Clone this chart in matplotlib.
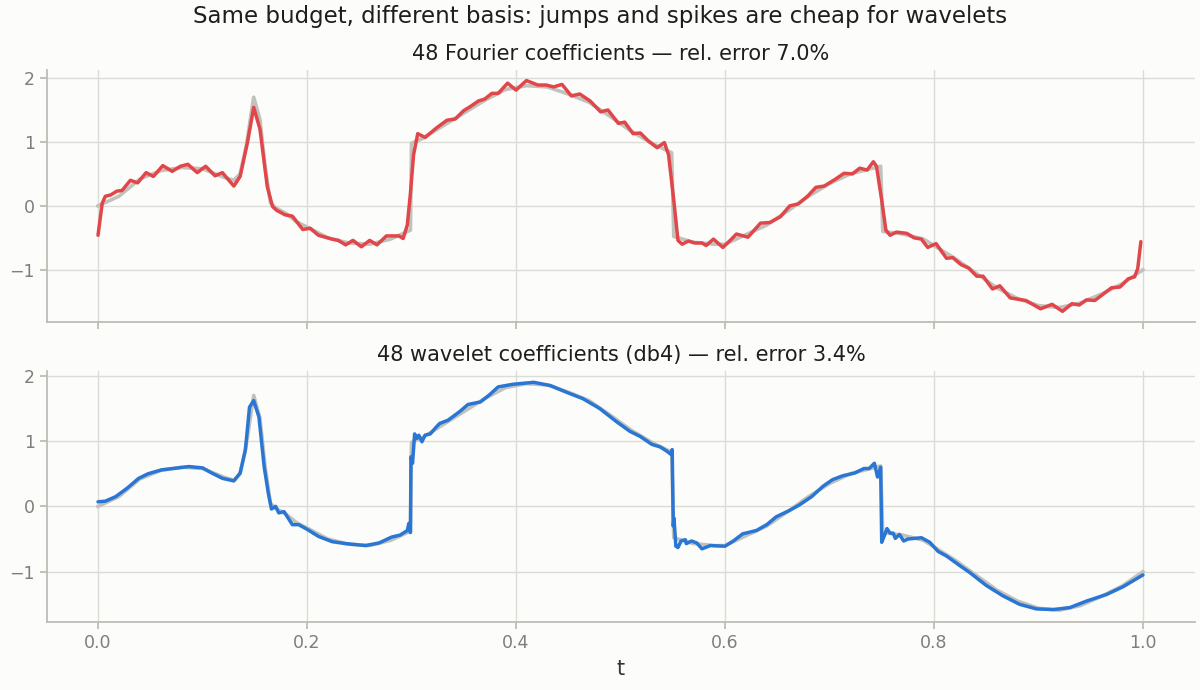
import matplotlib
matplotlib.use("Agg")
import matplotlib.pyplot as plt

# ---- data ----
orig_t = [0.0, 0.02, 0.04, 0.06, 0.08, 0.10, 0.12, 0.13, 0.136, 0.142, 0.149, 0.155, 0.16,
          0.165, 0.17, 0.18, 0.19, 0.20, 0.22, 0.24, 0.26, 0.28, 0.299, 0.300, 0.31, 0.33,
          0.35, 0.37, 0.39, 0.41, 0.43, 0.45, 0.47, 0.49, 0.51, 0.53, 0.549, 0.551, 0.57,
          0.59, 0.60, 0.62, 0.64, 0.66, 0.68, 0.70, 0.72, 0.749, 0.751, 0.77, 0.79, 0.80,
          0.82, 0.84, 0.86, 0.88, 0.90, 0.92, 0.94, 0.96, 0.98, 1.0]
orig_y = [0.0, 0.15, 0.42, 0.55, 0.60, 0.58, 0.45, 0.40, 0.50, 0.95, 1.70, 1.35, 0.60,
          0.05, -0.03, -0.12, -0.25, -0.33, -0.50, -0.58, -0.60, -0.52, -0.38, 0.98, 1.05, 1.25,
          1.45, 1.65, 1.82, 1.88, 1.86, 1.75, 1.62, 1.40, 1.17, 0.98, 0.83, -0.48, -0.57,
          -0.60, -0.60, -0.45, -0.30, -0.08, 0.15, 0.35, 0.50, 0.62, -0.40, -0.44, -0.52, -0.62,
          -0.82, -1.05, -1.28, -1.45, -1.56, -1.59, -1.52, -1.38, -1.22, -1.0]

fourier_t = [0.0, 0.004, 0.007, 0.012, 0.018, 0.023, 0.031, 0.038, 0.046, 0.053, 0.062, 0.071,
             0.079, 0.086, 0.095, 0.103, 0.112, 0.119, 0.130, 0.136, 0.143, 0.149, 0.155, 0.162,
             0.167, 0.171, 0.179, 0.186, 0.196, 0.203, 0.211, 0.224, 0.230, 0.237, 0.244, 0.252,
             0.260, 0.267, 0.276, 0.283, 0.288, 0.292, 0.296, 0.299, 0.302, 0.306, 0.313, 0.324,
             0.334, 0.342, 0.350, 0.356, 0.364, 0.370, 0.377, 0.383, 0.392, 0.400, 0.410, 0.421,
             0.429, 0.436, 0.444, 0.453, 0.461, 0.471, 0.481, 0.488, 0.498, 0.504, 0.512, 0.519,
             0.527, 0.535, 0.542, 0.546, 0.551, 0.555, 0.559, 0.565, 0.571, 0.578, 0.582, 0.589,
             0.598, 0.605, 0.611, 0.622, 0.634, 0.643, 0.653, 0.662, 0.670, 0.679, 0.687, 0.695,
             0.705, 0.714, 0.722, 0.729, 0.736, 0.742, 0.745, 0.750, 0.754, 0.758, 0.764, 0.774,
             0.781, 0.788, 0.794, 0.802, 0.812, 0.818, 0.826, 0.833, 0.841, 0.847, 0.856, 0.863,
             0.873, 0.888, 0.902, 0.913, 0.923, 0.932, 0.939, 0.946, 0.954, 0.962, 0.970, 0.978,
             0.986, 0.992, 0.995, 0.998]
fourier_y = [-0.46, 0.04, 0.15, 0.17, 0.23, 0.24, 0.40, 0.36, 0.52, 0.46, 0.63, 0.54,
             0.62, 0.65, 0.52, 0.62, 0.47, 0.52, 0.31, 0.46, 0.99, 1.54, 1.20, 0.30,
             -0.01, -0.07, -0.14, -0.16, -0.37, -0.35, -0.46, -0.52, -0.54, -0.61, -0.54, -0.64,
             -0.54, -0.61, -0.47, -0.47, -0.47, -0.51, -0.30, 0.20, 0.80, 1.13, 1.07, 1.22,
             1.34, 1.36, 1.49, 1.55, 1.64, 1.67, 1.76, 1.76, 1.92, 1.81, 1.96, 1.89,
             1.89, 1.86, 1.90, 1.72, 1.75, 1.64, 1.47, 1.50, 1.29, 1.31, 1.13, 1.14,
             1.01, 0.91, 0.99, 0.80, 0.09, -0.54, -0.60, -0.55, -0.58, -0.58, -0.62, -0.52,
             -0.65, -0.54, -0.44, -0.49, -0.27, -0.26, -0.17, 0.00, 0.03, 0.15, 0.29, 0.31,
             0.41, 0.51, 0.50, 0.59, 0.56, 0.69, 0.62, 0.09, -0.38, -0.46, -0.41, -0.43,
             -0.50, -0.52, -0.65, -0.59, -0.82, -0.81, -0.92, -0.97, -1.10, -1.10, -1.30, -1.25,
             -1.44, -1.48, -1.61, -1.54, -1.65, -1.53, -1.55, -1.47, -1.48, -1.38, -1.28, -1.27,
             -1.14, -1.11, -0.98, -0.56]

wavelet_t = [0.0, 0.007, 0.017, 0.028, 0.039, 0.048, 0.061, 0.077, 0.087, 0.100, 0.109, 0.119,
             0.130, 0.136, 0.141, 0.145, 0.149, 0.154, 0.159, 0.163, 0.166, 0.170, 0.173, 0.178,
             0.182, 0.186, 0.192, 0.200, 0.211, 0.224, 0.237, 0.256, 0.269, 0.281, 0.289, 0.296,
             0.2975, 0.299, 0.2995, 0.301, 0.303, 0.305, 0.307, 0.310, 0.313, 0.318, 0.324, 0.327,
             0.335, 0.346, 0.354, 0.366, 0.374, 0.383, 0.397, 0.417, 0.433, 0.448, 0.464, 0.480,
             0.496, 0.509, 0.519, 0.530, 0.538, 0.544, 0.548, 0.5495, 0.5505, 0.5512, 0.553, 0.555,
             0.558, 0.562, 0.563, 0.568, 0.573, 0.578, 0.586, 0.600, 0.608, 0.617, 0.630, 0.640,
             0.649, 0.662, 0.671, 0.683, 0.694, 0.703, 0.713, 0.724, 0.733, 0.738, 0.743, 0.746,
             0.749, 0.750, 0.753, 0.755, 0.758, 0.761, 0.763, 0.767, 0.771, 0.775, 0.788, 0.796,
             0.804, 0.812, 0.825, 0.834, 0.850, 0.866, 0.882, 0.898, 0.914, 0.930, 0.946, 0.965,
             0.981, 1.0]
wavelet_y = [0.07, 0.08, 0.15, 0.28, 0.43, 0.50, 0.56, 0.59, 0.61, 0.59, 0.51, 0.43,
             0.39, 0.51, 0.86, 1.52, 1.62, 1.37, 0.61, 0.20, -0.04, 0.00, -0.10, -0.08,
             -0.18, -0.28, -0.28, -0.35, -0.46, -0.54, -0.57, -0.60, -0.56, -0.47, -0.44, -0.37,
             -0.26, -0.40, 0.76, 0.66, 1.11, 1.04, 1.09, 0.99, 1.09, 1.11, 1.22, 1.27,
             1.32, 1.45, 1.56, 1.60, 1.70, 1.83, 1.87, 1.90, 1.85, 1.75, 1.65, 1.50,
             1.30, 1.15, 1.07, 0.95, 0.91, 0.85, 0.80, 0.87, -0.30, -0.18, -0.61, -0.63,
             -0.53, -0.51, -0.57, -0.53, -0.56, -0.65, -0.60, -0.61, -0.53, -0.42, -0.37, -0.28,
             -0.16, -0.06, 0.02, 0.15, 0.31, 0.41, 0.47, 0.51, 0.58, 0.58, 0.66, 0.45,
             0.60, -0.55, -0.43, -0.34, -0.41, -0.41, -0.49, -0.43, -0.53, -0.50, -0.48, -0.55,
             -0.69, -0.76, -0.91, -1.01, -1.21, -1.37, -1.50, -1.57, -1.58, -1.55, -1.45, -1.35,
             -1.23, -1.05]

suptitle = "Same budget, different basis: jumps and spikes are cheap for wavelets"
title_top = "48 Fourier coefficients \u2014 rel. error 7.0%"
title_bot = "48 wavelet coefficients (db4) \u2014 rel. error 3.4%"
xticks = [0.0, 0.2, 0.4, 0.6, 0.8, 1.0]
yticks = [-1, 0, 1, 2]

# ---- style ----
BG = "#fcfcfa"
GRID = "#dcdcd6"
TICK = "#7e7e7a"
SPINE = "#bdbdb5"
ORIG = "#c2c2bc"
RED = "#e0464a"
BLUE = "#2a76d4"

plt.rcParams['font.family'] = ['DejaVu Sans']
fig = plt.figure(figsize=(12, 6.9), dpi=100, facecolor=BG)
ax1 = fig.add_axes([0.039, 0.533, 0.957, 0.366])
ax2 = fig.add_axes([0.039, 0.0986, 0.957, 0.3634], sharex=ax1)

for ax, t, y, c, ttl in [(ax1, fourier_t, fourier_y, RED, title_top),
                         (ax2, wavelet_t, wavelet_y, BLUE, title_bot)]:
    ax.set_facecolor(BG)
    ax.plot(orig_t, orig_y, color=ORIG, lw=2.6, zorder=2, solid_joinstyle='round')
    ax.plot(t, y, color=c, lw=2.5, zorder=3, solid_joinstyle='round',
            solid_capstyle='round')
    ax.grid(True, color=GRID, lw=1.0)
    ax.set_axisbelow(True)
    for s in ['top', 'right']:
        ax.spines[s].set_visible(False)
    for s in ['left', 'bottom']:
        ax.spines[s].set_color(SPINE)
        ax.spines[s].set_linewidth(1.3)
    ax.tick_params(colors=SPINE, labelcolor=TICK, labelsize=12.5, length=5, width=1.3)
    ax.set_yticks(yticks)
    ax.set_title(ttl, fontsize=15, color="#1e1e1e", pad=7)

ax1.set_xlim(-0.049, 1.05)
ax1.set_xticks(xticks)
ax1.tick_params(labelbottom=False)
ax1.set_ylim(-1.82, 2.13)
ax2.set_ylim(-1.77, 2.07)
ax2.set_xlabel("t", fontsize=15, color="#333333", labelpad=5)
fig.suptitle(suptitle, fontsize=16.5, color="#1e1e1e", y=0.993)

fig.savefig("out.png", dpi=100, facecolor=BG)
